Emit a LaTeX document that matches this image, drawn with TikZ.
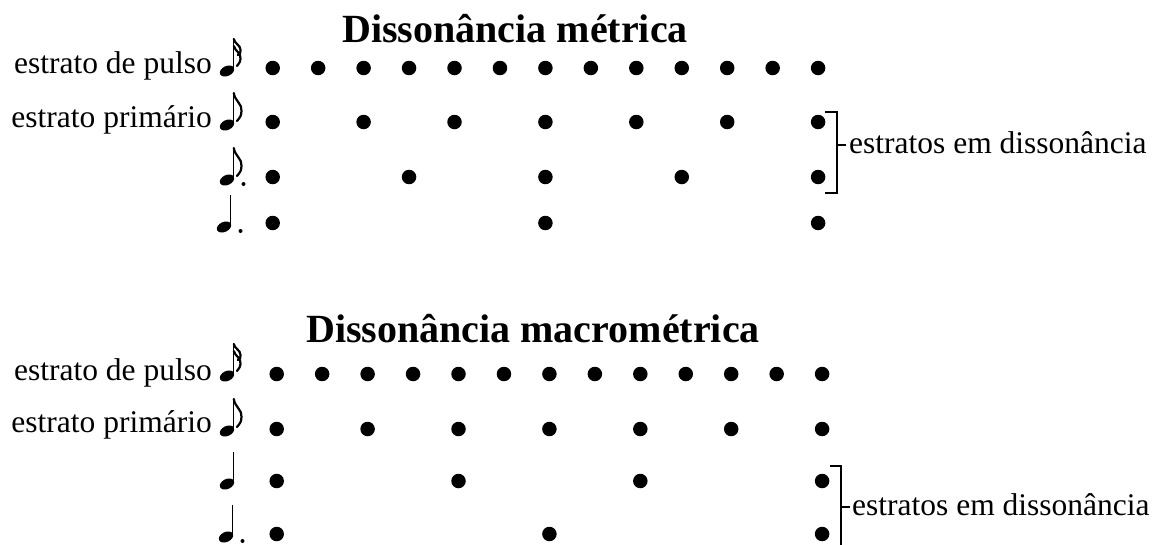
\documentclass[tikz,border=0pt]{standalone}
\usepackage{fontspec}
\setmainfont{Liberation Serif}
\usetikzlibrary{positioning}

\begin{document}
\begin{tikzpicture}[x=1pt, y=1pt,
  beat/.style={circle, fill=black, inner sep=0pt, minimum size=14.5pt},
  lbl/.style={inner sep=0pt, font=\fontsize{31.5}{36}\selectfont},
  ttl/.style={inner sep=0pt, anchor=base, font=\fontsize{40}{48}\selectfont\bfseries},
  brk/.style={draw, line width=2pt},
  stem/.style={line width=1.3pt},
  flag/.style={line width=2.2pt, line cap=round},
]
\useasboundingbox (0,0) rectangle (1152,-544);
\def\dx{45.45}      % distancia entre pulsos

% pecas das figuras de nota, em torno de uma coordenada
\def\head#1{\fill[shift={(#1)}, rotate=25] (0,0) ellipse (7.6 and 5);
  \draw[stem] ([shift={(6.8,1)}]#1) -- ++(0,31);}
\def\flaga#1{\draw[flag] ([shift={(6.8,32)}]#1) .. controls +(1,-8) and +(1,7) .. ([shift={(14.5,14)}]#1) .. controls +(-0.5,-5) .. ([shift={(10,4)}]#1);}
\def\flagb#1{\draw[flag] ([shift={(6.8,32)}]#1) .. controls +(1,-5) and +(0,5) .. ([shift={(13.5,21)}]#1) .. controls +(0,-3) .. ([shift={(11,16)}]#1);
  \draw[flag] ([shift={(6.8,25)}]#1) .. controls +(1,-5) and +(1,6) .. ([shift={(13.5,12)}]#1) .. controls +(-0.5,-3) .. ([shift={(10,5)}]#1);}
\def\ndot#1{\fill ([shift={(16.5,-4)}]#1) circle (2);}

%% Dissonancia metrica
\node[ttl] (met-t) at (515,-42) {Dissonância métrica};

\coordinate (met-n1) at (227,-71);
\coordinate (met-n2) at (227,-125);
\coordinate (met-n3) at (227,-180);
\coordinate (met-n4) at (224,-227);
\head{met-n1} \flagb{met-n1}
\head{met-n2} \flaga{met-n2}
\head{met-n3} \flaga{met-n3} \ndot{met-n3}
\head{met-n4} \ndot{met-n4}

\node[lbl, anchor=base east] (met-l1) at (212,-73) {estrato de pulso};
\node[lbl, anchor=base east] (met-l2) at (212,-127) {estrato primário};

\foreach \i in {0,...,12} \node[beat] (met-1-\i) at (272.7+\dx*\i,-68) {};
\foreach \i in {0,2,...,12} \node[beat] (met-2-\i) at (272.7+\dx*\i,-122) {};
\foreach \i in {0,3,...,12} \node[beat] (met-3-\i) at (272.7+\dx*\i,-177) {};
\foreach \i in {0,6,12} \node[beat] (met-4-\i) at (272.7+\dx*\i,-223) {};

\draw[brk] (825,-112) -- (837,-112) -- (837,-193) -- (825,-193);
\draw[brk] (837,-145) -- (846,-145);
\node[lbl, anchor=base west] (met-d) at (849,-153) {estratos em dissonância};

%% Dissonancia macrometrica
\node[ttl] (mac-t) at (533,-342) {Dissonância macrométrica};

\coordinate (mac-n1) at (227,-376);
\coordinate (mac-n2) at (227,-431);
\coordinate (mac-n3) at (227,-484);
\coordinate (mac-n4) at (226,-537);
\head{mac-n1} \flagb{mac-n1}
\head{mac-n2} \flaga{mac-n2}
\head{mac-n3}
\head{mac-n4} \ndot{mac-n4}

\node[lbl, anchor=base east] (mac-l1) at (212,-380) {estrato de pulso};
\node[lbl, anchor=base east] (mac-l2) at (212,-432) {estrato primário};

\foreach \i in {0,...,12} \node[beat] (mac-1-\i) at (276.7+\dx*\i,-374) {};
\foreach \i in {0,2,...,12} \node[beat] (mac-2-\i) at (276.7+\dx*\i,-429) {};
\foreach \i in {0,4,...,12} \node[beat] (mac-3-\i) at (276.7+\dx*\i,-481) {};
\foreach \i in {0,6,12} \node[beat] (mac-4-\i) at (276.7+\dx*\i,-534) {};

\draw[brk] (830,-466) -- (841,-466) -- (841,-546);
\draw[brk] (841,-507) -- (850,-507);
\node[lbl, anchor=base west] (mac-d) at (852,-515) {estratos em dissonância};
\end{tikzpicture}
\end{document}
